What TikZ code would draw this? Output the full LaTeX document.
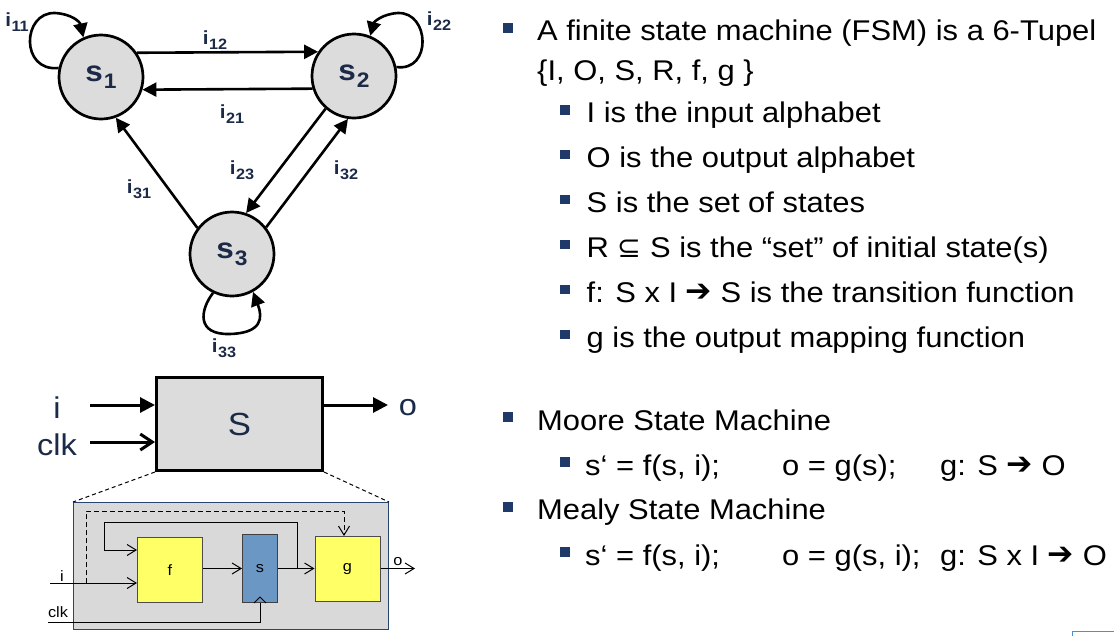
\documentclass[tikz,border=0pt]{standalone}
\usepackage{graphicx}
\usepackage{fontspec}
\setmainfont{Liberation Sans}[FakeStretch=1.085]
\newfontfamily\symfont{DejaVu Sans}
\usetikzlibrary{arrows.meta,calc}
\definecolor{navy}{HTML}{1B2A47}
\definecolor{bulnavy}{HTML}{1F3A68}
\definecolor{stategray}{HTML}{DCDCDC}
\definecolor{innergray}{HTML}{D9D9D9}
\definecolor{innerborder}{HTML}{2A4470}
\definecolor{fyellow}{HTML}{FFFF66}
\definecolor{sblue}{HTML}{6B97C5}
\definecolor{cornerblue}{HTML}{4A8FD9}
\newcommand\ilab[1]{i\kern0.5pt\raisebox{-5pt}{\fontsize{15}{15}\selectfont #1}}
\newcommand\slab[1]{s\kern1pt\raisebox{-7pt}{\fontsize{21}{21}\selectfont #1}}
\newcommand\rarr{{\symfont\raisebox{0.5pt}{\scalebox{1.1}{➔}}}}
\newcommand\subeq{{\symfont ⊆}}
\tikzset{
  txt/.style={anchor=base west, inner sep=0pt, font=\fontsize{28.5}{34}\selectfont, text=black},
  bul/.style={fill=bulnavy, minimum size=10pt, inner sep=0pt},
  subbul/.style={fill=bulnavy, minimum size=9.5pt, inner sep=0pt},
  state/.style={circle, draw, line width=2.7pt, fill=stategray, minimum size=84pt, inner sep=0pt, font=\fontsize{29}{29}\selectfont\bfseries, text=navy},
  edge/.style={line width=2.6pt, -{Triangle[length=14pt,width=14pt]}},
  elab/.style={font=\fontsize{19}{19}\selectfont\bfseries, text=navy, inner sep=0pt},
  bigbox/.style={draw, line width=3pt, fill=stategray, minimum width=166pt, minimum height=93pt, inner sep=0pt, font=\fontsize{32}{32}\selectfont, text=navy},
  biglab/.style={font=\fontsize{30}{30}\selectfont, text=navy, inner sep=0pt},
  bigarrow/.style={line width=3pt, -{Triangle[length=15pt,width=15pt]}},
  bigbarb/.style={line width=3pt, -{Straight Barb[length=12pt,width=16pt]}},
  innerbox/.style={draw=innerborder, line width=1pt, fill=innergray, minimum width=315pt, minimum height=127pt, inner sep=0pt},
  fbox/.style={draw=black!70, line width=1pt, fill=fyellow, minimum width=65pt, minimum height=65pt, inner sep=0pt, font=\fontsize{15}{15}\selectfont},
  sbox/.style={draw=black!75, line width=1pt, fill=sblue, minimum width=35pt, minimum height=68pt, inner sep=0pt, font=\fontsize{15}{15}\selectfont},
  sig/.style={line width=1pt, -{Straight Barb[length=9pt,width=11pt]}},
  smalllab/.style={font=\fontsize{15}{15}\selectfont, inner sep=0pt},
  zoomline/.style={line width=1pt, dashed, dash pattern=on 4pt off 3pt}
}
\begin{document}
\begin{tikzpicture}[x=1pt,y=-1pt]
\useasboundingbox (0,0) rectangle (1114,635);
% ---------- state graph
\node[state] (s1) at (101,77) {\slab{1}};
\node[state] (s2) at (354,76) {\slab{2}};
\node[state] (s3) at (232,254) {\slab{3}};
\draw[edge] (s1.34) -- (s2.146);
\draw[edge] (s2.197) -- (s1.-17);
\draw[edge] (s2.229) -- (s3.71);
\draw[edge] (s3.38) -- (s2.262);
\draw[edge] (s3.143) -- (s1.290);
\draw[edge] (s1.168) .. controls (20,72) and (22,12) .. (55,13) .. controls (72,14) and (80,22) .. (s1.114);
\draw[edge] (s2.12) .. controls (432,72) and (430,12) .. (398,13) .. controls (382,14) and (374,22) .. (s2.68);
\draw[edge] (s3.244) .. controls (200,310) and (196,335) .. (230,334) .. controls (262,333) and (263,318) .. (s3.299);
\node[elab] (l11) at (17,22) {\ilab{11}};
\node[elab] (l12) at (215,40) {\ilab{12}};
\node[elab] (l21) at (232,114) {\ilab{21}};
\node[elab] (l22) at (439,21) {\ilab{22}};
\node[elab] (l23) at (242,170) {\ilab{23}};
\node[elab] (l32) at (346,170) {\ilab{32}};
\node[elab] (l31) at (139,189) {\ilab{31}};
\node[elab] (l33) at (224,348) {\ilab{33}};
% ---------- S block
\node[bigbox] (S) at (239.5,424) {S};
\node[biglab] (li) at (57,408) {i};
\node[biglab] (lclk) at (57,445) {clk};
\node[biglab] (lo) at (408,408) {o};
\coordinate (iin) at (90,405);
\coordinate (cin) at (90,442);
\coordinate (oout) at (388,405);
\draw[bigarrow] (iin) -- (iin -| S.west);
\draw[bigbarb] (cin) -- (cin -| S.west);
\draw[bigarrow] (oout -| S.east) -- (oout);
% ---------- inner structure
\node[innerbox] (M) at (231,566) {};
\draw[zoomline] (S.south west) -- (M.north west);
\draw[zoomline] (S.south east) -- (M.north east);
\node[fbox] (f) at (170,570) {f};
\node[sbox] (s) at (260,568.5) {s};
\node[fbox] (g) at (347.5,569) {g};
\coordinate (ii) at (50,583);
\coordinate (d0) at (86,583);
\coordinate (dtop) at (344,511);
\coordinate (fb1) at (297,522);
\coordinate (fb2) at (104,522);
\coordinate (fb3) at (104,550);
\coordinate (oo) at (415,569);
\coordinate (ck) at (48,622);
\draw[sig] (ii) -- (ii -| f.west);
\draw[sig, dashed, dash pattern=on 5pt off 3pt] (d0) |- (dtop) -- (dtop |- g.north);
\draw[sig] (f.east |- s.west) -- (s.west);
\draw[sig] (s.east) -- (s.east -| g.west);
\draw[sig] (fb1 |- s.east) -- (fb1) -- (fb2) -- (fb3) -- (fb3 -| f.west);
\draw[sig] (g.east |- s.east) -- (oo |- s.east);
\draw[line width=1pt] (ck) -| (s.south);
\draw[line width=1pt] ($(s.south)+(-6,0)$) -- ($(s.south)+(0,-6)$) -- ($(s.south)+(6,0)$);
\node[smalllab] (si) at (62,576) {i};
\node[smalllab] (sclk) at (58,612) {clk};
\node[smalllab] (so) at (398,562) {o};
% ---------- text
\node[bul] (b1) at (508,27.5) {};
\node[txt] (t1) at (537,40.7) {A finite state machine (FSM) is a 6-Tupel};
\node[txt] (t2) at (537,80.7) {\{I, O, S, R, f, g \}};
\node[subbul] (b2) at (565,110) {};
\node[txt] (t3) at (586.5,122.7) {I is the input alphabet};
\node[subbul] (b3) at (565,154.7) {};
\node[txt] (t4) at (586.5,167.4) {O is the output alphabet};
\node[subbul] (b4) at (565,199.6) {};
\node[txt] (t5) at (586.5,212.3) {S is the set of states};
\node[subbul] (b5) at (565,244.5) {};
\node[txt] (t6) at (586.5,257.2) {R \subeq{} S is the “set” of initial state(s)};
\node[subbul] (b6) at (565,289.4) {};
\node[txt] (t7) at (586.5,302.1) {f: S x I \rarr{} S is the transition function};
\node[subbul] (b7) at (565,334.3) {};
\node[txt] (t8) at (586.5,347) {g is the output mapping function};
\node[bul] (b8) at (508,416.5) {};
\node[txt] (t9) at (537,430) {Moore State Machine};
\node[subbul] (b9) at (565,462) {};
\node[txt] (t10) at (585,475) {s‘ = f(s, i);};
\node[txt] (t11) at (782,475) {o = g(s);};
\node[txt] (t12) at (940,475) {g: S \rarr{} O};
\node[bul] (b10) at (508,507) {};
\node[txt] (t13) at (537,519) {Mealy State Machine};
\node[subbul] (b11) at (565,552) {};
\node[txt] (t14) at (585,565) {s‘ = f(s, i);};
\node[txt] (t15) at (782,565) {o = g(s, i);};
\node[txt] (t16) at (940,565) {g: S x I \rarr{} O};
% ---------- corner frame
\draw[cornerblue, line width=1pt] (1072,640) -- (1072,631) -- (1120,631);
\end{tikzpicture}
\end{document}
